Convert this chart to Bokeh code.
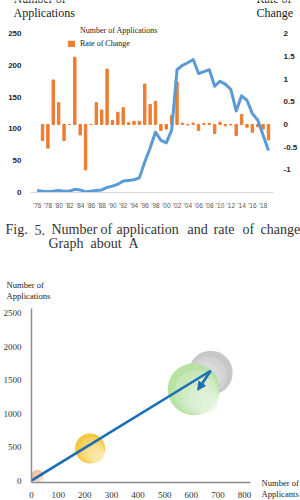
from bokeh.plotting import figure
from bokeh.models import (Range1d, LinearAxis, FixedTicker, Legend, LegendItem,
                          Arrow, NormalHead, NumeralTickFormatter)
from bokeh.layouts import column, row
from bokeh.embed import file_html
from bokeh.resources import INLINE
from bokeh.core.properties import value

# ---------------- data: chart 1 ----------------
years = list(range(1976, 2020))
applications = [3, 2, 1, 2, 3, 2, 2, 5, 4, 1,
                2, 3, 4, 8, 10, 13, 18, 19, 20, 23,
                48, 70, 95, 82, 78, 98, 193, 200, 204, 209,
                187, 190, 193, 167, 175, 170, 162, 128, 152, 145,
                124, 114, 90, 66]
rate_years = list(range(1977, 2020))
rate_of_change = [-0.35, -0.52, 0.98, 0.48, -0.35, 0.0, 1.48, -0.23, -1.0,
                  0.0, 0.48, 0.32, 1.22, 0.09, 0.27, 0.37, 0.04, 0.07, 0.07,
                  0.89, 0.44, 0.51, -0.13, -0.10, 0.20, 0.93, 0.03, -0.01, 0.03,
                  -0.13, 0.02, 0.02, -0.20, 0.05, -0.03, -0.01, -0.24, 0.22, -0.06,
                  -0.17, -0.05, -0.10, -0.34]
year_ticks = [1976, 1978, 1980, 1982, 1984, 1986, 1988, 1990, 1992, 1994, 1996,
              1998, 2000, 2002, 2004, 2006, 2008, 2010, 2012, 2014, 2016, 2018]
year_tick_labels = ["'76", "'78", "'80", "'82", "'84", "'86", "'88", "'90", "'92", "'94", "'96",
                    "'98", "'00", "'02", "'04", "'06", "'08", "'10", "'12", "'14", "'16", "'18"]
left_ticks = [0, 50, 100, 150, 200, 250]
right_ticks = [-1.5, -1, -0.5, 0, 0.5, 1, 1.5, 2]

# ---------------- data: chart 2 ----------------
bubble_applicants = [22, 220, 673, 609]
bubble_applications = [73, 480, 1613, 1366]
arrow_applicants = [0, 673, 624]
arrow_applications = [0, 1642, 1352]
x2_ticks = [0, 100, 200, 300, 400, 500, 600, 700, 800]
y2_ticks = [0, 500, 1000, 1500, 2000, 2500]

# ---------------- texts ----------------
caption_words = ["Fig.", "5.", "Number", "of", "application", "and", "rate", "of", "change",
                 "Graph", "about", "A"]

# styles / layout
BLUE = "#5b9bd5"
ORANGE = "#ed7d31"
SERIF = "Liberation Serif"
SANS = "Liberation Sans"


def strip(w, h):
    """a figure without axes whose frame is the whole figure; y measured from its top (px)."""
    s = figure(width=w, height=h, output_backend="svg", toolbar_location=None,
               x_range=Range1d(0, w), y_range=Range1d(h, 0), min_border=0,
               x_axis_type=None, y_axis_type=None, frame_align=False)
    s.grid.visible = False
    s.outline_line_color = None
    return s


def put(s, xs, ys, texts, size, baseline="middle", color="#222222"):
    s.text(x=xs, y=ys, text=texts, text_font=value(SERIF), text_font_size=value(size),
           text_baseline=baseline, text_align="left", text_color=color)


# ================= top titles strip (page y 0..20) =================
t1 = strip(300, 20)
put(t1, [13, 256], [5.5, 5.5], ["Number of", "Rate of"], "12px", baseline="bottom")
put(t1, [13, 256], [12.3, 12.3], ["Applications", "Change"], "12px")

# ================= chart 1 (page y 20..212) =================
p1 = figure(width=300, height=192, output_backend="svg", toolbar_location=None,
            x_range=Range1d(1974.765, 2019.93), y_range=Range1d(0, 270.4),
            min_border_left=30, min_border_right=25, min_border_top=0,
            min_border_bottom=20, frame_align=False)
p1.outline_line_color = None
p1.grid.visible = False
p1.extra_y_ranges = {"rate": Range1d(-1.497, 2.289)}

xa = p1.xaxis[0]
xa.ticker = FixedTicker(ticks=year_ticks)
xa.major_label_overrides = {y: l for y, l in zip(year_ticks, year_tick_labels)}
xa.axis_line_color = "#d9d9d9"
xa.major_tick_line_color = None
xa.minor_tick_line_color = None
xa.major_label_text_font = SANS
xa.major_label_text_font_size = "6.5px"
xa.major_label_text_color = "#595959"
xa.major_label_standoff = 3

ya = p1.yaxis[0]
ya.ticker = FixedTicker(ticks=left_ticks)
ya.axis_line_color = None
ya.major_tick_line_color = None
ya.minor_tick_line_color = None
ya.major_label_text_font = SANS
ya.major_label_text_font_style = "bold"
ya.major_label_text_font_size = "8px"
ya.major_label_text_color = "#262626"
ya.major_label_standoff = 3

ra = LinearAxis(y_range_name="rate", ticker=FixedTicker(ticks=right_ticks),
                formatter=NumeralTickFormatter(format="0.[0]"))
ra.axis_line_color = None
ra.major_tick_line_color = None
ra.minor_tick_line_color = None
ra.major_label_text_font = SANS
ra.major_label_text_font_style = "bold"
ra.major_label_text_font_size = "8px"
ra.major_label_text_color = "#262626"
ra.major_label_standoff = 4
p1.add_layout(ra, "right")

bars = p1.vbar(x=rate_years, top=rate_of_change, bottom=0, width=0.45,
               color=ORANGE, y_range_name="rate")
p1.line(years, applications, line_width=3, color=BLUE, line_join="round")
proxy = p1.vbar(x=[], top=[], width=0.45, color=BLUE)

legend = Legend(items=[LegendItem(label="Number of Applications", renderers=[proxy]),
                       LegendItem(label="Rate of Change", renderers=[bars])],
                location=(37, 144), border_line_color=None, background_fill_alpha=0,
                padding=0, margin=0, spacing=4, glyph_width=8, glyph_height=7,
                label_height=8, label_standoff=5, label_text_font=SERIF,
                label_text_font_size="8px", label_text_color="#222222")
p1.add_layout(legend)

# ================= caption strip (page y 212..308) =================
t2 = strip(300, 96)
word_x = [5, 34, 51, 100, 116, 187, 213, 242, 260, 48, 90, 128]
word_y = [17] * 9 + [31] * 3
put(t2, word_x, word_y, caption_words, "14px", color="#333333")
put(t2, [6, 6], [72, 83], ["Number of", "Applications"], "8.6px")

# ================= chart 2 (page y 308..500) =================
XS, XE = 0, 822.4
YS, YE = -29, 2573
FW, FH = 220, 179
p2 = figure(width=255, height=192, output_backend="svg", toolbar_location=None,
            x_range=Range1d(XS, XE), y_range=Range1d(YS, YE),
            min_border_left=30, min_border_right=5, min_border_top=0,
            min_border_bottom=13, frame_align=False)
p2.outline_line_color = None
p2.grid.visible = False
for ax, tk, so in ((p2.xaxis[0], x2_ticks, 3), (p2.yaxis[0], y2_ticks, 4)):
    ax.ticker = FixedTicker(ticks=tk)
    ax.axis_line_color = "#8c8c8c"
    ax.axis_line_width = 1.5
    ax.major_tick_line_color = None
    ax.minor_tick_line_color = None
    ax.major_label_text_font = SERIF
    ax.major_label_text_font_size = "9px"
    ax.major_label_text_color = "#333333"
    ax.major_label_standoff = so

ux = (XE - XS) / FW  # data units per px
uy = (YE - YS) / FH
bubble_diam = [12, 30, 44, 52]
bubble_base = ["#f3b894", "#f6c537", "#c4c4c4", "#b5e0a0"]
bubble_light = ["#fbe3d4", "#fdf0c8", "#f2f2f2", "#eef8e8"]
bubble_dir = [(1, -1), (1, -1), (-1, -1), (1, -1)]
for i in range(len(bubble_applicants)):
    cx, cy, D = bubble_applicants[i], bubble_applications[i], bubble_diam[i]
    p2.scatter([cx], [cy], size=D, fill_color=bubble_base[i], line_color=None, fill_alpha=0.95)
    for k in range(1, 7):
        d = D * (1 - 0.14 * k)
        off = (D - d) / 2 * 0.9
        dx, dy = bubble_dir[i]
        p2.scatter([cx + dx * off * ux], [cy + dy * off * uy], size=d,
                   fill_color=bubble_light[i], line_color=None, fill_alpha=0.28)

ARROW = "#1b6fb6"
p2.line(arrow_applicants[:2], arrow_applications[:2], line_width=2.6, color=ARROW)
p2.add_layout(Arrow(x_start=arrow_applicants[1], y_start=arrow_applications[1],
                    x_end=arrow_applicants[2], y_end=arrow_applications[2],
                    line_color=ARROW, line_width=2.6,
                    end=NormalHead(size=8, fill_color=ARROW, line_color=ARROW)))

# right-hand axis title strip (page x 255..300)
t3 = strip(45, 192)
put(t3, [6, 6], [174, 185], ["Number of", "Applicants"], "8.6px")

layout = column(t1, p1, t2, row(p2, t3, spacing=0), spacing=0)
open("out.html", "w").write(file_html(layout, INLINE))
